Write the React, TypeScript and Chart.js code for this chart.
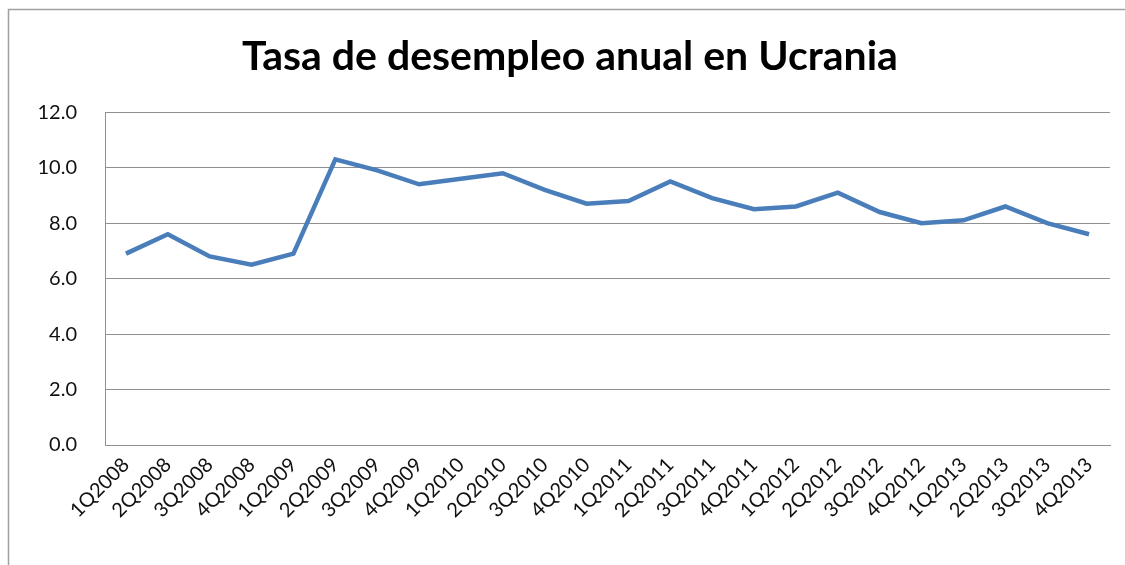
import React, { useEffect, useRef } from "react";
import { Chart, registerables } from "chart.js";

Chart.register(...registerables);

const categories = [
  "1Q2008", "2Q2008", "3Q2008", "4Q2008",
  "1Q2009", "2Q2009", "3Q2009", "4Q2009",
  "1Q2010", "2Q2010", "3Q2010", "4Q2010",
  "1Q2011", "2Q2011", "3Q2011", "4Q2011",
  "1Q2012", "2Q2012", "3Q2012", "4Q2012",
  "1Q2013", "2Q2013", "3Q2013", "4Q2013",
];

const unemployment = [
  6.9, 7.6, 6.8, 6.5,
  6.9, 10.3, 9.9, 9.4,
  9.6, 9.8, 9.2, 8.7,
  8.8, 9.5, 8.9, 8.5,
  8.6, 9.1, 8.4, 8.0,
  8.1, 8.6, 8.0, 7.6,
];

const yTicks = [0, 2, 4, 6, 8, 10, 12];

const titleText = "Tasa de desempleo anual en Ucrania";

const frame = {
  id: "frame",
  afterDraw(chart: any) {
    const ctx = chart.ctx;
    ctx.save();
    ctx.strokeStyle = "#a0a0a0";
    ctx.lineWidth = 1.5;
    ctx.beginPath();
    ctx.moveTo(8.5, 570);
    ctx.lineTo(8.5, 9.5);
    ctx.lineTo(1130, 9.5);
    ctx.stroke();
    ctx.restore();
  },
};

export default function App() {
  const ref = useRef<HTMLCanvasElement | null>(null);

  useEffect(() => {
    if (!ref.current) return;
    const chart = new Chart(ref.current, {
      type: "line",
      data: {
        labels: categories,
        datasets: [
          {
            data: unemployment,
            borderColor: "#4a7ebb",
            borderWidth: 4.5,
            pointRadius: 0,
            tension: 0,
            fill: false,
          },
        ],
      },
      options: {
        animation: false,
        responsive: false,
        maintainAspectRatio: false,
        layout: { padding: { top: 0, right: 15, bottom: 0, left: 30 } },
        plugins: {
          legend: { display: false },
          tooltip: { enabled: false },
          title: {
            display: true,
            text: titleText,
            color: "#000000",
            font: { family: "Lato", weight: "bold", size: 41, lineHeight: 1.2 },
            padding: { top: 32, bottom: 31 },
          },
        },
        scales: {
          x: {
            type: "category",
            offset: true,
            grid: { display: false, drawTicks: false },
            border: { display: true, color: "#909090", width: 1 },
            ticks: {
              color: "#111111",
              font: { family: "Lato", size: 20 },
              minRotation: 45,
              maxRotation: 45,
              autoSkip: false,
              padding: 8,
            },
            afterFit: (axis: any) => {
              axis.height = 120;
            },
          },
          y: {
            min: 0,
            max: 12,
            afterBuildTicks: (axis: any) => {
              axis.ticks = yTicks.map((v) => ({ value: v }));
            },
            grid: { color: "#909090", lineWidth: 1, drawTicks: false },
            border: { display: true, color: "#909090", width: 1 },
            ticks: {
              color: "#111111",
              font: { family: "Lato", size: 20 },
              padding: 28,
              callback: (v: any) => Number(v).toFixed(1),
            },
            afterFit: (axis: any) => {
              axis.width = 75;
            },
          },
        },
      },
      plugins: [frame],
    });
    return () => chart.destroy();
  }, []);

  return (
    <div style={{ position: "fixed", left: 0, top: 0, width: 1125, height: 565, background: "#ffffff" }}>
      <canvas ref={ref} width={1125} height={565} style={{ display: "block" }} />
    </div>
  );
}
